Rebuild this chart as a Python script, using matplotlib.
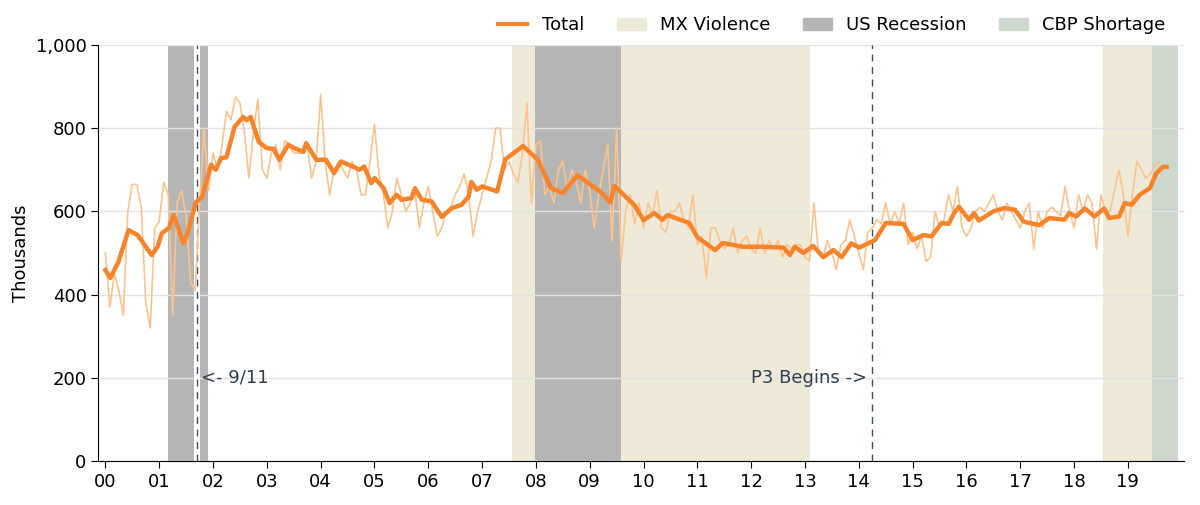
import matplotlib.pyplot as plt
import numpy as np
from matplotlib.patches import Patch
from matplotlib.lines import Line2D

# monthly totals (thousands), Jan 2000 .. Aug 2019
monthly = [
    500, 370, 450, 410, 350, 600, 665, 665, 610, 380, 320, 560,
    575, 670, 640, 350, 620, 650, 590, 430, 410, 620, 800, 650,
    740, 700, 760, 840, 820, 875, 860, 790, 680, 790, 870, 700,
    680, 740, 760, 700, 770, 760, 740, 740, 740, 760, 680, 720,
    880, 720, 640, 700, 720, 700, 680, 720, 700, 640, 640, 720,
    810, 690, 640, 560, 600, 680, 640, 600, 620, 650, 560, 620,
    660, 600, 540, 560, 600, 610, 640, 660, 690, 640, 540, 600,
    640, 680, 720, 800, 800, 700, 720, 690, 670, 740, 860, 620,
    760, 770, 640, 660, 620, 700, 720, 650, 700, 670, 620, 700,
    650, 560, 640, 700, 760, 530, 800, 480, 600, 640, 570, 620,
    560, 620, 590, 650, 560, 550, 600, 600, 620, 580, 560, 640,
    520, 540, 440, 560, 560, 530, 510, 520, 560, 500, 530, 540,
    510, 500, 560, 500, 530, 510, 530, 490, 520, 510, 520, 520,
    490, 480, 620, 500, 490, 530, 500, 460, 520, 530, 580, 540,
    500, 460, 550, 560, 580, 570, 620, 570, 600, 570, 620, 520,
    550, 510, 540, 480, 490, 600, 560, 580, 640, 600, 660, 560,
    540, 560, 600, 610, 600, 620, 640, 600, 580, 620, 600, 580,
    560, 600, 620, 510, 600, 560, 600, 610, 600, 590, 660, 600,
    560, 640, 600, 640, 620, 510, 640, 600, 600, 650, 700, 640,
    540, 640, 720, 700, 680, 690, 710, 720,
]

# smoothed total, read at irregular dates
trend_t = [2000.0, 2000.09, 2000.24, 2000.43, 2000.6, 2000.86, 2000.97, 2001.05, 2001.18,
           2001.27, 2001.45, 2001.53, 2001.68, 2001.8, 2001.96, 2002.05, 2002.15, 2002.25,
           2002.4, 2002.56, 2002.62, 2002.7, 2002.85, 2003.0, 2003.13, 2003.23, 2003.4,
           2003.51, 2003.68, 2003.73, 2003.92, 2004.1, 2004.25, 2004.38, 2004.66, 2004.72,
           2004.81, 2004.94, 2005.0, 2005.17, 2005.28, 2005.41, 2005.5, 2005.69, 2005.75,
           2005.88, 2006.06, 2006.25, 2006.44, 2006.62, 2006.75, 2006.8, 2006.9, 2007.0,
           2007.28, 2007.43, 2007.76, 2008.03, 2008.28, 2008.5, 2008.77, 2009.2, 2009.38,
           2009.46, 2009.83, 2010.0, 2010.2, 2010.35, 2010.45, 2010.85, 2011.0, 2011.33,
           2011.47, 2011.85, 2012.2, 2012.6, 2012.72, 2012.81, 2012.97, 2013.15, 2013.34,
           2013.53, 2013.68, 2013.86, 2014.01, 2014.3, 2014.5, 2014.83, 2015.0, 2015.2,
           2015.35, 2015.54, 2015.67, 2015.77, 2015.86, 2016.05, 2016.14, 2016.23, 2016.5,
           2016.7, 2016.9, 2017.07, 2017.35, 2017.54, 2017.82, 2017.91, 2018.04, 2018.2,
           2018.38, 2018.56, 2018.65, 2018.84, 2018.94, 2019.07, 2019.22, 2019.41, 2019.53,
           2019.65, 2019.72]
trend_v = [459, 440, 478, 555, 543, 495, 515, 548, 560,
           591, 524, 548, 622, 635, 712, 700, 728, 730,
           803, 827, 819, 827, 767, 752, 750, 724, 760,
           752, 743, 764, 724, 724, 692, 720, 704, 700,
           708, 668, 680, 656, 620, 640, 628, 632, 656,
           628, 624, 587, 608, 616, 636, 671, 652, 660,
           648, 725, 757, 725, 656, 644, 687, 647, 622,
           661, 615, 579, 596, 580, 591, 572, 538, 507,
           524, 515, 515, 513, 495, 515, 500, 517, 490,
           507, 490, 523, 513, 531, 572, 570, 531, 543,
           540, 572, 570, 596, 611, 580, 596, 578, 600,
           608, 604, 575, 567, 584, 580, 596, 588, 607,
           588, 607, 584, 588, 620, 616, 640, 656, 692,
           707, 707]

mx_violence = [(2007.56, 2013.1), (2018.53, 2019.44)]
us_recession = [(2001.16, 2001.9), (2007.98, 2009.59)]
cbp_shortage = [(2019.44, 2019.94)]
sept11 = 2001.7
p3_begins = 2014.25
year_labels = ["%02d" % y for y in range(20)]

orange = "#F7842A"
fig = plt.figure(figsize=(12, 5.05), dpi=100)
ax = fig.add_axes([0.082, 0.087, 0.905, 0.824])

for a, b in mx_violence:
    ax.axvspan(a, b, color="#EEEAD7", lw=0, zorder=0)
for a, b in us_recession:
    ax.axvspan(a, b, color="#B5B5B3", lw=0, zorder=0.5)
for a, b in cbp_shortage:
    ax.axvspan(a, b, color="#CDD8CD", lw=0, zorder=0.5)

ax.axvspan(sept11 - 0.05, sept11 + 0.05, color="white", lw=0, zorder=0.8)
ax.axvline(sept11, color="#3D5060", ls=(0, (5, 4)), lw=1, zorder=1)
ax.axvline(p3_begins, color="#3D5060", ls=(0, (5, 4)), lw=1, zorder=1)

months = 2000 + np.arange(len(monthly)) / 12
ax.plot(months, monthly, color="#FBC38F", lw=1.2, zorder=2)
ax.plot(trend_t, trend_v, color=orange, lw=3.2, zorder=3)

ax.text(sept11 + 0.08, 200, "<- 9/11", color="#2C3E50", fontsize=13, va="center", ha="left")
ax.text(p3_begins - 0.1, 200, "P3 Begins ->", color="#2C3E50", fontsize=13, va="center", ha="right")

ax.set_xlim(1999.87, 2020.05)
ax.set_ylim(0, 1000)
ax.set_xticks(range(2000, 2020))
ax.set_xticklabels(year_labels, fontsize=13)
ax.set_yticks(range(0, 1001, 200))
ax.set_yticklabels(["0", "200", "400", "600", "800", "1,000"], fontsize=13)
ax.set_ylabel("Thousands", fontsize=13)
ax.yaxis.grid(True, color="#E3E3E3", lw=1)
ax.set_axisbelow(True)
for s in ["top", "right"]:
    ax.spines[s].set_visible(False)
ax.tick_params(length=5)

handles = [Line2D([], [], color=orange, lw=3),
           Patch(color="#EEEAD7"), Patch(color="#B5B5B3"), Patch(color="#CDD8CD")]
fig.legend(handles, ["Total", "MX Violence", "US Recession", "CBP Shortage"],
           loc="upper right", bbox_to_anchor=(0.985, 1.0), ncol=4, frameon=False,
           fontsize=13, handlelength=1.6, columnspacing=1.8)

fig.savefig("out.png")
